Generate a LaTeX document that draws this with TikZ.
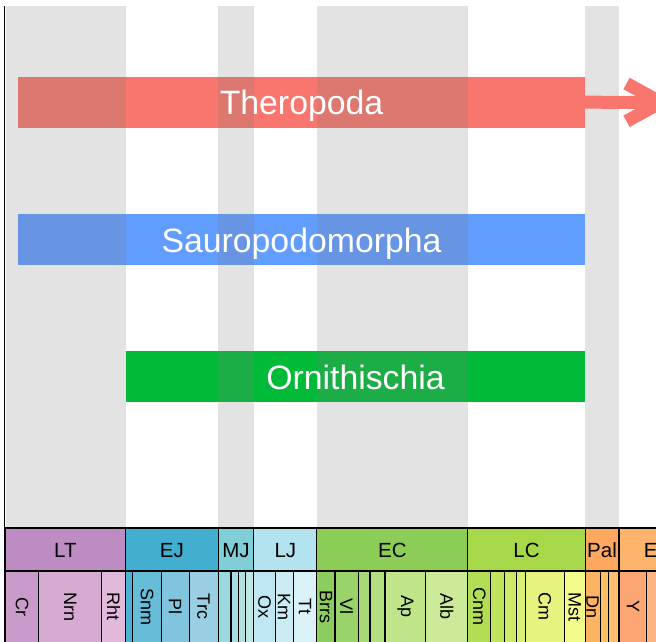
\documentclass[tikz,border=0pt]{standalone}
\usepackage{fontspec}
\setmainfont{Liberation Sans}
\definecolor{thero}{HTML}{F8766D}
\definecolor{sauro}{HTML}{619CFF}
\definecolor{ornith}{HTML}{00BA38}
% epochs
\definecolor{cLT}{HTML}{BD8CC3}
\definecolor{cEJ}{HTML}{42AED0}
\definecolor{cMJ}{HTML}{80CFD8}
\definecolor{cLJ}{HTML}{B3E3EE}
\definecolor{cEC}{HTML}{8CCD57}
\definecolor{cLC}{HTML}{A6D84A}
\definecolor{cPal}{HTML}{FDA75F}
\definecolor{cEo}{HTML}{FDB46C}
% stages
\definecolor{cCr}{HTML}{C99BCB}
\definecolor{cNrn}{HTML}{D6AAD3}
\definecolor{cRht}{HTML}{E3B9DB}
\definecolor{cHet}{HTML}{4EB3D3}
\definecolor{cSnm}{HTML}{67BCD8}
\definecolor{cPl}{HTML}{80C5DD}
\definecolor{cTrc}{HTML}{99CEE3}
\definecolor{cAal}{HTML}{9AD9DD}
\definecolor{cBaj}{HTML}{A6DDE0}
\definecolor{cBth}{HTML}{B3E2E3}
\definecolor{cClv}{HTML}{BFE7E5}
\definecolor{cOx}{HTML}{BFE7F1}
\definecolor{cKm}{HTML}{CCECF4}
\definecolor{cTt}{HTML}{D9F1F7}
\definecolor{cBrrs}{HTML}{8CCD60}
\definecolor{cVl}{HTML}{99D36A}
\definecolor{cHau}{HTML}{A6D975}
\definecolor{cBrm}{HTML}{B3DF7F}
\definecolor{cAp}{HTML}{BFE48A}
\definecolor{cAlb}{HTML}{CCEA97}
\definecolor{cCnm}{HTML}{B3DE53}
\definecolor{cTur}{HTML}{BFE35D}
\definecolor{cCon}{HTML}{CCE968}
\definecolor{cSan}{HTML}{D9EF74}
\definecolor{cCm}{HTML}{E6F47F}
\definecolor{cMst}{HTML}{F2FA8C}
\definecolor{cDn}{HTML}{FDB462}
\definecolor{cSel}{HTML}{FEBF65}
\definecolor{cTha}{HTML}{FDBF6F}
\definecolor{cY}{HTML}{FCA773}
\definecolor{cLut}{HTML}{FCB482}
\tikzset{
  cladebar/.style={draw=none, inner sep=0pt, outer sep=0pt, minimum height=51},
  cladetext/.style={text=white, font=\fontsize{33.8}{33.8}\selectfont, inner sep=0pt, anchor=base},
  band/.style={fill=gray, fill opacity=0.22, draw=none},
  theroline/.style={draw=thero, line width=13pt},
  tsbox/.style={draw=black, line width=1.1pt, inner sep=0pt, outer sep=0pt, anchor=north west},
  toplabel/.style={font=\fontsize{20.5}{20.5}\selectfont, inner sep=0pt, anchor=base},
  stagelabel/.style={font=\fontsize{18}{18}\selectfont, inner sep=0pt, rotate=-90},
  axisline/.style={draw=black, line width=1.6pt},
}
\begin{document}
\begin{tikzpicture}[x=1pt,y=-1pt]
\useasboundingbox (0,0) rectangle (656,641);
\clip (0,0) rectangle (656,641);

% clade bars
\node[cladebar, fill=thero, minimum width=567] (thero) at (301.5,102.2) {};
\node[cladebar, fill=sauro, minimum width=567] (sauro) at (301.5,239.5) {};
\node[cladebar, fill=ornith, minimum width=459] (ornith) at (355.5,376.7) {};

% alternating period bands
\fill[band] (5.7,6) rectangle (125.7,528);
\fill[band] (218.1,6) rectangle (253.9,528);
\fill[band] (316.9,6) rectangle (467.9,528);
\fill[band] (585.1,6) rectangle (619,528);

% arrow continuing Theropoda
\coordinate (arrowtip) at (661,102.4);
\coordinate (headtop) at (626.5,83.5);
\coordinate (headbot) at (626.5,121.3);
\draw[theroline] (thero.east) -- (arrowtip);
\draw[theroline, line join=miter] (headtop) -- (arrowtip) -- (headbot);

% clade labels
\node[cladetext] (thero-l) at ([yshift=-12.3pt]thero.center) {Theropoda};
\node[cladetext] (sauro-l) at ([yshift=-12.6pt]sauro.center) {Sauropodomorpha};
\node[cladetext] (ornith-l) at ([yshift=-13.1pt]ornith.center) {Ornithischia};

% epochs row
\foreach \a/\b/\n in {5/125.7/LT, 125.7/218.1/EJ, 218.1/253.9/MJ, 253.9/316.9/LJ, 316.9/467.9/EC, 467.9/585.1/LC, 585.1/619/Pal}{
  \node[tsbox, fill=c\n, minimum width={\b-\a}, minimum height=43] (e\n) at (\a,528) {};
  \node[toplabel] (e\n-l) at ({(\a+\b)/2},557.5) {\n};
}
\node[tsbox, fill=cEo, minimum width=75, minimum height=43] (eEo) at (619,528) {};
\node[toplabel, anchor=base west] (eEo-l) at (643.6,557.5) {E};

% stages row
\foreach \a/\b/\n in {5/38.9/Cr, 38.9/101.7/Nrn, 101.7/125.7/Rht, 125.7/132.5/Het, 132.5/161.5/Snm, 161.5/189.1/Pl, 189.1/218.1/Trc, 218.1/231/Aal, 231/238.1/Baj, 238.1/245.5/Bth, 245.5/253.9/Clv, 253.9/275.2/Ox, 275.2/293.1/Km, 293.1/316.9/Tt, 316.9/335/Brrs, 335/358.2/Vl, 358.2/370/Hau, 370/385/Brm, 385/425.7/Ap, 425.7/467.9/Alb, 467.9/490.5/Cnm, 490.5/504.5/Tur, 504.5/516.6/Con, 516.6/525.3/San, 525.3/564.5/Cm, 564.5/585.1/Mst, 585.1/600.2/Dn, 600.2/608.2/Sel, 608.2/619/Tha, 619/646.9/Y, 646.9/669.3/Lut}{
  \node[tsbox, fill=c\n, minimum width={\b-\a}, minimum height=76] (\n) at (\a,571) {};
}
\coordinate (stagey) at (0,606.5);
\foreach \n in {Cr,Nrn,Rht,Snm,Pl,Trc,Ox,Km,Tt,Brrs,Vl,Ap,Alb,Cnm,Cm,Mst,Dn,Y}{
  \node[stagelabel] (\n-l) at (\n.center |- stagey) {\n};
}

% left axis
\coordinate (axtop) at (4.6,6);
\coordinate (axbot) at (4.6,645);
\draw[axisline] (axtop) -- (axbot);
\end{tikzpicture}
\end{document}
